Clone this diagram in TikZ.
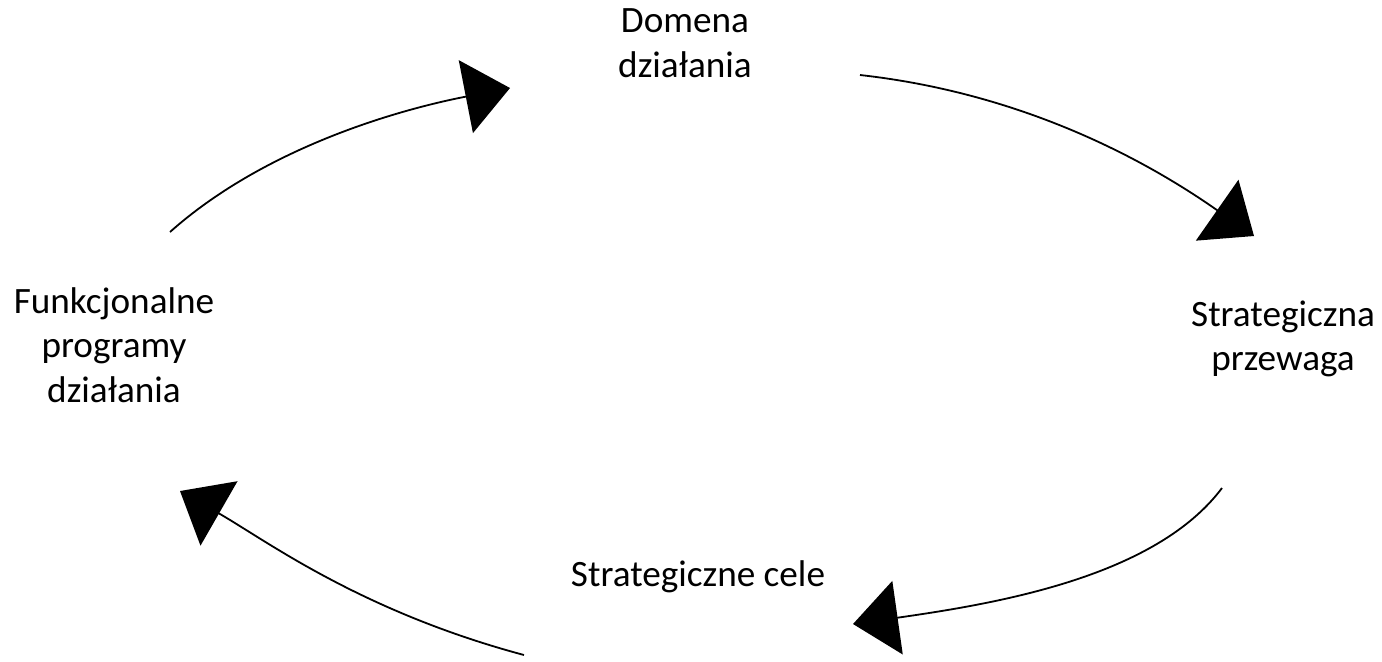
\documentclass[tikz,border=0pt]{standalone}
\usepackage{fontspec}
\setmainfont{Carlito}
\usetikzlibrary{arrows.meta}
\begin{document}
\begin{tikzpicture}[x=0.5pt,y=-0.5pt,line join=round,
	>={Triangle[length=22.5pt,width=37pt]},
	lbl/.style={align=center,font=\fontsize{18.6}{22.3}\selectfont},
	cyc/.style={->,line width=0.9pt}]
	\useasboundingbox (0,0) rectangle (1382,661);
	% etykiety
	\node[lbl] (dom) at (685,43) {Domena\\działania};
	\node[lbl] (prz) at (1283,339) {Strategiczna\\przewaga};
	\node[lbl] (cel) at (698,577) {Strategiczne cele};
	\node[lbl] (fun) at (114,345) {Funkcjonalne\\programy\\działania};
	% konce lukow
	\coordinate (a1) at (170,232); \coordinate (b1) at (510,88);
	\coordinate (a2) at (860,75);  \coordinate (b2) at (1254,236);
	\coordinate (a3) at (1222,488); \coordinate (b3) at (853,624);
	\coordinate (a4) at (524,655); \coordinate (b4) at (180,491);
	% luki
	\draw[cyc] (a1) .. controls (262,150) and (392,111) .. (b1);
	\draw[cyc] (a2) .. controls (1039,95) and (1164,173) .. (b2);
	\draw[cyc] (a3) .. controls (1156,576) and (1001,603) .. (b3);
	\draw[cyc] (a4) .. controls (360,611) and (267,541) .. (b4);
\end{tikzpicture}
\end{document}
